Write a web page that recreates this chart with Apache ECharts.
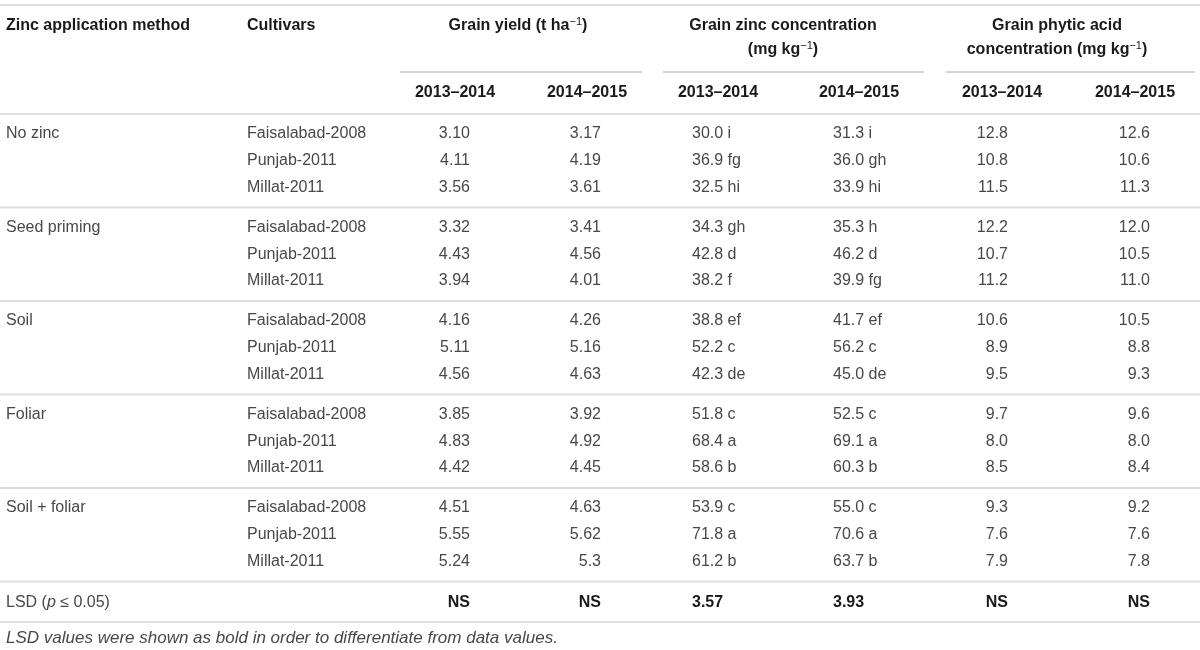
<!DOCTYPE html>
<html>
<head>
<meta charset="utf-8">
<title>Zinc application table</title>
<script src="https://cdn.jsdelivr.net/npm/echarts@6/dist/echarts.min.js"></script>
<style>
  html, body { margin: 0; padding: 0; background: #fff; }
  #main { width: 1200px; height: 650px; }
</style>
</head>
<body>
<div id="main"></div>
<script>
// table data
var methods = ['No zinc', 'Seed priming', 'Soil', 'Foliar', 'Soil + foliar'];
var cultivars = ['Faisalabad-2008', 'Punjab-2011', 'Millat-2011'];
var years = ['2013–2014', '2014–2015'];

// grain yield (t ha-1), rows = method x cultivar
var yield1314 = ['3.10', '4.11', '3.56', '3.32', '4.43', '3.94', '4.16', '5.11', '4.56', '3.85', '4.83', '4.42', '4.51', '5.55', '5.24'];
var yield1415 = ['3.17', '4.19', '3.61', '3.41', '4.56', '4.01', '4.26', '5.16', '4.63', '3.92', '4.92', '4.45', '4.63', '5.62', '5.3'];

// grain zinc concentration (mg kg-1) with letters
var zinc1314 = ['30.0 i', '36.9 fg', '32.5 hi', '34.3 gh', '42.8 d', '38.2 f', '38.8 ef', '52.2 c', '42.3 de', '51.8 c', '68.4 a', '58.6 b', '53.9 c', '71.8 a', '61.2 b'];
var zinc1415 = ['31.3 i', '36.0 gh', '33.9 hi', '35.3 h', '46.2 d', '39.9 fg', '41.7 ef', '56.2 c', '45.0 de', '52.5 c', '69.1 a', '60.3 b', '55.0 c', '70.6 a', '63.7 b'];

// grain phytic acid concentration (mg kg-1)
var phytic1314 = ['12.8', '10.8', '11.5', '12.2', '10.7', '11.2', '10.6', '8.9', '9.5', '9.7', '8.0', '8.5', '9.3', '7.6', '7.9'];
var phytic1415 = ['12.6', '10.6', '11.3', '12.0', '10.5', '11.0', '10.5', '8.8', '9.3', '9.6', '8.0', '8.4', '9.2', '7.6', '7.8'];

// LSD row
var lsdValues = ['NS', 'NS', '3.57', '3.93', 'NS', 'NS'];

var headTitles = ['Zinc application method', 'Cultivars'];
var groupTitles = [['Grain yield (t ha{sup|−1})'], ['Grain zinc concentration', '(mg kg{sup|−1})'], ['Grain phytic acid', 'concentration (mg kg{sup|−1})']];
var lsdLabel = 'LSD ({i|p} ≤ 0.05)';
var footnote = 'LSD values were shown as bold in order to differentiate from data values.';

// layout (pixel space of the axes)
var valueCols = [yield1314, yield1415, zinc1314, zinc1415, phytic1314, phytic1415];
var colX = [470, 601, 692, 833, 1008, 1150];
var colAlign = ['right', 'right', 'left', 'left', 'right', 'right'];
var yearX = [455, 587, 718, 859, 1002, 1135];
var groupX = [518, 783, 1057];
var groupLine = [[400, 642], [663, 924], [946, 1195]];
var groupTop = [114, 207.5, 301, 394.5, 488];
var rowOff = [20, 47, 73.5];

var cells = [];
var lines = [];
function cell(x, y, text, align, kind) {
   cells.push({ x: x, y: y, text: text, align: align, kind: kind });
}

// header
cell(6, 26, headTitles[0], 'left', 'head');
cell(247, 26, headTitles[1], 'left', 'head');
for (var g = 0; g < groupTitles.length; g++) {
   for (var l = 0; l < groupTitles[g].length; l++) {
      cell(groupX[g], 26 + l * 24, groupTitles[g][l], 'center', 'head');
   }
   lines.push({ x1: groupLine[g][0], x2: groupLine[g][1], y: 72, kind: 'thin' });
}
for (var c = 0; c < yearX.length; c++) {
   cell(yearX[c], 93, years[c % 2], 'center', 'head');
}

lines.push({ x1: 0, x2: 1200, y: 5, kind: 'rule' });
lines.push({ x1: 0, x2: 1200, y: 114, kind: 'rule' });

// body rows
for (var m = 0; m < methods.length; m++) {
   var gTop = groupTop[m];
   cell(6, gTop + rowOff[0], methods[m], 'left', 'body');
   for (var k = 0; k < cultivars.length; k++) {
      var r = m * 3 + k;
      var rowY = gTop + rowOff[k];
      cell(247, rowY, cultivars[k], 'left', 'body');
      for (var j = 0; j < valueCols.length; j++) {
         cell(colX[j], rowY, valueCols[j][r], colAlign[j], 'body');
      }
   }
   lines.push({ x1: 0, x2: 1200, y: gTop + 93.5, kind: 'rule' });
}

// LSD
cell(6, 603, lsdLabel, 'left', 'body');
for (var q = 0; q < lsdValues.length; q++) {
   cell(colX[q], 603, lsdValues[q], colAlign[q], 'bold');
}
lines.push({ x1: 0, x2: 1200, y: 622, kind: 'rule' });
cell(6, 638, footnote, 'left', 'note');

var fonts = {
   head: { fontFamily: 'Liberation Sans', fontWeight: 'bold', fontSize: 16, fill: '#1a1a1a' },
   bold: { fontFamily: 'Liberation Sans', fontWeight: 'bold', fontSize: 16, fill: '#1a1a1a' },
   body: { fontFamily: 'Liberation Sans', fontWeight: 'normal', fontSize: 16, fill: '#484848' },
   note: { fontFamily: 'Liberation Sans', fontWeight: 'normal', fontStyle: 'italic', fontSize: 17, fill: '#484848' }
};

var chart = echarts.init(document.getElementById('main'));
chart.setOption({
   animation: false,
   backgroundColor: '#fff',
   grid: { left: 0, right: 0, top: 0, bottom: 0 },
   xAxis: { type: 'value', min: 0, max: 1200, show: false },
   yAxis: { type: 'value', min: 0, max: 650, inverse: true, show: false },
   series: [{
      type: 'custom',
      silent: true,
      clip: false,
      data: lines.map(function (d) { return [d.x1, d.y, d.x2]; }),
      renderItem: function (params, api) {
         var d = lines[params.dataIndex];
         var p1 = api.coord([api.value(0), api.value(1)]);
         var p2 = api.coord([api.value(2), api.value(1)]);
         return {
            type: 'line',
            shape: { x1: p1[0], y1: p1[1], x2: p2[0], y2: p2[1] },
            style: d.kind === 'thin'
               ? { stroke: '#a8a8a8', lineWidth: 1 }
               : { stroke: '#dedede', lineWidth: 2 }
         };
      }
   }, {
      type: 'custom',
      silent: true,
      clip: false,
      data: cells.map(function (d) { return [d.x, d.y]; }),
      renderItem: function (params, api) {
         var d = cells[params.dataIndex];
         var p = api.coord([api.value(0), api.value(1)]);
         var f = fonts[d.kind];
         return {
            type: 'text',
            x: p[0],
            y: p[1],
            style: {
               text: d.text,
               align: d.align,
               verticalAlign: 'middle',
               fontFamily: f.fontFamily,
               fontWeight: f.fontWeight,
               fontStyle: f.fontStyle || 'normal',
               fontSize: f.fontSize,
               lineHeight: 19,
               fill: f.fill,
               rich: {
                  i: { fontFamily: f.fontFamily, fontWeight: f.fontWeight, fontStyle: 'italic', fontSize: f.fontSize, lineHeight: 19, color: f.fill },
                  sup: { fontFamily: 'Liberation Sans', fontWeight: 'normal', fontSize: 11, lineHeight: 19, verticalAlign: 'top', color: f.fill }
               }
            }
         };
      }
   }]
});
</script>
</body>
</html>
